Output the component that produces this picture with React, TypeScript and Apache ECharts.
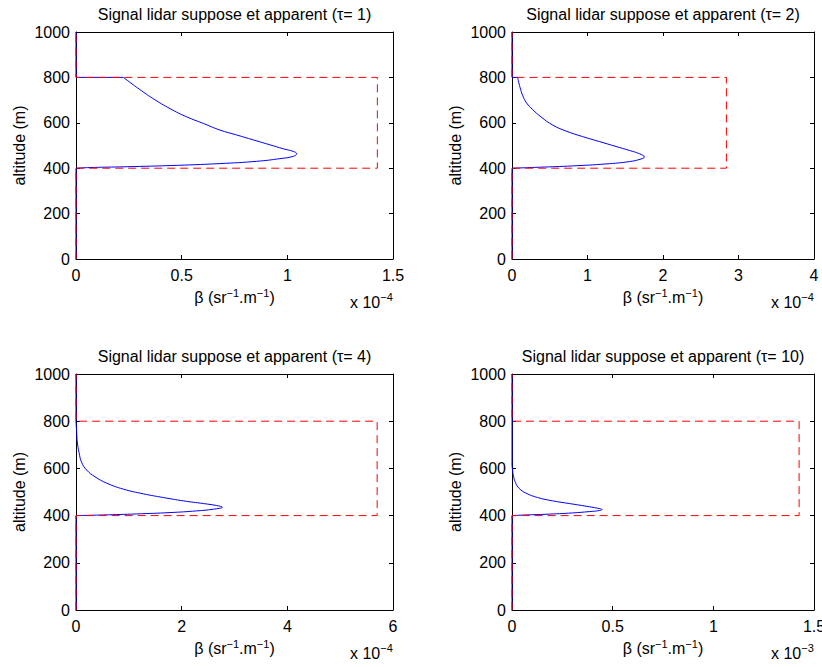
import React, { useEffect, useRef } from 'react';
import * as echarts from 'echarts';

// ---------- data ----------
const tauValues = [1, 2, 4, 10];
const altitudeMax = 1000;
const altitudeInterval = 200;
const xMaxValues = [1.5, 4, 6, 1.5];
const xIntervals = [0.5, 1, 2, 0.5];
const xExponents = ['−4', '−4', '−4', '−3'];

// supposed (true) profile, beta in units of 10^exponent
const supposedAltitude = [0, 400, 400, 800, 800, 1000];
const supposedBeta1 = [0, 0, 1.426, 1.426, 0, 0];
const supposedBeta2 = [0, 0, 2.84, 2.84, 0, 0];
const supposedBeta3 = [0, 0, 5.7, 5.7, 0, 0];
const supposedBeta4 = [0, 0, 1.426, 1.426, 0, 0];

// apparent profile inside the layer (from base of layer upward)
const apparentAlt1 = [400, 402.9, 405.8, 411.6, 420.3, 430.4, 442, 452.2, 463.8, 473.9, 485.5, 502.9, 524.6, 546.4, 568, 597, 626, 662.3, 705.8, 756.5, 800];
const apparentBeta1 = [0, 0.066, 0.208, 0.445, 0.681, 0.855, 0.965, 1.028, 1.044, 1.028, 0.981, 0.918, 0.839, 0.76, 0.681, 0.603, 0.524, 0.445, 0.366, 0.287, 0.224];

const apparentAlt2 = [400, 404.3, 410.1, 418.8, 429, 440.6, 449.3, 463.8, 478.3, 495.7, 517.4, 539.1, 563.8, 589.9, 626.1, 658, 687, 720.3, 756.5, 785.5, 800];
const apparentBeta2 = [0, 0.362, 0.804, 1.245, 1.554, 1.709, 1.753, 1.687, 1.554, 1.377, 1.157, 0.936, 0.715, 0.539, 0.384, 0.274, 0.194, 0.141, 0.106, 0.084, 0.075];

const apparentAlt3 = [400, 402.8, 407.1, 412.8, 419.9, 427, 435.5, 442.6, 451.1, 462.4, 476.6, 492.2, 512.1, 537.6, 564.5, 592.9, 625.5, 668.1, 710.6, 753.2, 795.7];
const apparentBeta3 = [0, 0.517, 1.148, 1.779, 2.284, 2.599, 2.77, 2.662, 2.41, 2.032, 1.653, 1.274, 0.896, 0.58, 0.36, 0.202, 0.107, 0.057, 0.025, 0.013, 0];

const apparentAlt4 = [400, 402.8, 405.7, 411.3, 417, 421.3, 425.5, 431.2, 439.7, 451.1, 462.4, 476.6, 495, 514.9, 540.4, 568.8, 597.2, 611.3];
const apparentBeta4 = [0, 0.07, 0.169, 0.301, 0.384, 0.434, 0.447, 0.425, 0.368, 0.285, 0.202, 0.127, 0.07, 0.036, 0.017, 0.007, 0.002, 0];

const supposedBetas = [supposedBeta1, supposedBeta2, supposedBeta3, supposedBeta4];
const apparentAlts = [apparentAlt1, apparentAlt2, apparentAlt3, apparentAlt4];
const apparentBetas = [apparentBeta1, apparentBeta2, apparentBeta3, apparentBeta4];

// ---------- layout ----------
const FONT = "'Liberation Sans', Arial, Helvetica, sans-serif";
const FS = 16;
const layouts = [
  { left: 76, top: 32, width: 317, height: 227 },
  { left: 512, top: 32, width: 302, height: 227 },
  { left: 76, top: 374, width: 317, height: 236 },
  { left: 512, top: 374, width: 302, height: 236 },
];

function buildOption() {
  const grid: any[] = [];
  const xAxis: any[] = [];
  const yAxis: any[] = [];
  const series: any[] = [];
  const graphic: any[] = [];

  layouts.forEach((l, i) => {
    grid.push({ ...l, containLabel: false, outerBoundsMode: 'none', show: false });
    const axisLine = { show: true, onZero: false, lineStyle: { color: '#000', width: 1 } };
    const axisTick = { show: true, inside: true, length: 4, lineStyle: { color: '#000', width: 1 } };
    const fmt = (v: number) => String(v);
    const xBase = {
      type: 'value', gridIndex: i, min: 0, max: xMaxValues[i], interval: xIntervals[i],
      splitLine: { show: false }, axisLine, axisTick,
    };
    xAxis.push({
      ...xBase, position: 'bottom',
      axisLabel: { show: true, color: '#000', fontSize: FS, fontFamily: FONT, margin: 8, showMinLabel: true, showMaxLabel: true, formatter: fmt },
    });
    xAxis.push({ ...xBase, position: 'top', axisLabel: { show: false } });
    const yBase = {
      type: 'value', gridIndex: i, min: 0, max: altitudeMax, interval: altitudeInterval,
      splitLine: { show: false }, axisLine, axisTick,
    };
    yAxis.push({
      ...yBase, position: 'left',
      axisLabel: { show: true, color: '#000', fontSize: FS, fontFamily: FONT, margin: 6, showMinLabel: true, showMaxLabel: true, formatter: fmt },
    });
    yAxis.push({ ...yBase, position: 'right', axisLabel: { show: false } });

    const alts = apparentAlts[i];
    const betas = apparentBetas[i];
    const curve = alts.map((a, k) => [betas[k], a]);
    const last = curve[curve.length - 1];
    const common = { type: 'line', xAxisIndex: 2 * i, yAxisIndex: 2 * i, showSymbol: false, symbol: 'none', silent: true };

    // apparent (blue)
    series.push({ ...common, name: 'apparent', data: [[0, 0], curve[0]], lineStyle: { color: '#0000ff', width: 1 } });
    series.push({ ...common, name: 'apparent', data: curve, smooth: 0.45, lineStyle: { color: '#0000ff', width: 1 } });
    series.push({ ...common, name: 'apparent', data: [last, [0, last[1]], [0, altitudeMax]], lineStyle: { color: '#0000ff', width: 1 } });
    // supposed (red dashed)
    series.push({
      ...common, name: 'suppose',
      data: supposedAltitude.map((a, k) => [supposedBetas[i][k], a]),
      lineStyle: { color: '#ff0000', width: 1, type: [8, 5] },
    });

    const cx = l.left + l.width / 2;
    const bottom = l.top + l.height;
    graphic.push({
      type: 'text', x: cx, y: l.top - 17.5, silent: true,
      style: {
        text: `Signal lidar suppose et apparent (τ= ${tauValues[i]})`,
        fontSize: FS, fontFamily: FONT, fill: '#000',
        align: 'center', verticalAlign: 'middle', textAlign: 'center', textVerticalAlign: 'middle',
      },
    });
    graphic.push({
      type: 'text', x: l.left - 57, y: l.top + l.height / 2, rotation: Math.PI / 2, silent: true,
      style: {
        text: 'altitude (m)', fontSize: FS, fontFamily: FONT, fill: '#000',
        align: 'center', verticalAlign: 'middle', textAlign: 'center', textVerticalAlign: 'middle',
      },
    });
    const rich = {
      b: { fontSize: FS, fontFamily: FONT, color: '#000', lineHeight: 21 },
      s: { fontSize: 11, fontFamily: FONT, color: '#000', lineHeight: 12, verticalAlign: 'top' },
    };
    graphic.push({
      type: 'text', x: cx, y: bottom + 38.5, silent: true,
      style: {
        text: '{b|β (sr}{s|−1}{b|.m}{s|−1}{b|)}', rich, fill: '#000',
        align: 'center', verticalAlign: 'middle', textAlign: 'center', textVerticalAlign: 'middle',
      },
    });
    graphic.push({
      type: 'text', x: l.left + l.width - 43, y: bottom + 43, silent: true,
      style: {
        text: `{b|x 10}{s|${xExponents[i]}}`, rich, fill: '#000',
        align: 'left', verticalAlign: 'middle', textAlign: 'left', textVerticalAlign: 'middle',
      },
    });
  });

  return {
    animation: false,
    backgroundColor: '#ffffff',
    grid, xAxis, yAxis, series, graphic,
  };
}

export default function App() {
  const ref = useRef<HTMLDivElement>(null);
  useEffect(() => {
    document.body.style.margin = '0';
    if (!ref.current) return;
    const chart = echarts.init(ref.current, null, { renderer: 'svg' });
    chart.setOption(buildOption() as any);
    return () => chart.dispose();
  }, []);
  return <div ref={ref} style={{ width: 822, height: 667, position: 'absolute', left: 0, top: 0 }} />;
}
